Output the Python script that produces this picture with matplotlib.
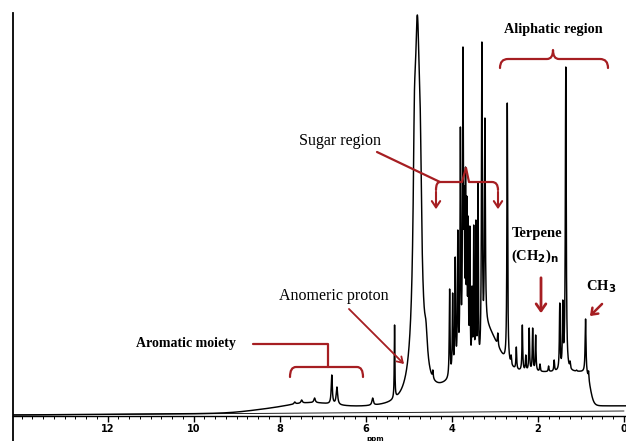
import numpy as np
import matplotlib
matplotlib.use("Agg")
import matplotlib.pyplot as plt
from matplotlib.path import Path
from matplotlib.patches import PathPatch

# ---------------- data ----------------
# chemical shift (ppm), observed peak-top intensity (a.u.), half width (ppm)
peak_ppm = [4.80, 4.87, 4.73, 4.60, 5.33,
            7.65, 7.49, 7.19, 6.79, 6.67, 5.84,
            4.44, 4.05, 3.98, 3.92, 3.86, 3.80, 3.74, 3.71, 3.68, 3.65, 3.62, 3.58,
            3.53, 3.49, 3.44, 3.39, 3.30, 3.23, 3.03, 2.93,
            2.71, 2.62, 2.50, 2.36, 2.28, 2.20, 2.12, 2.05, 1.95, 1.75, 1.62,
            1.49, 1.42, 1.35, 1.25, 1.10, 0.89, 0.82]
peak_top = [401, 320, 300, 95, 91,
            14, 16, 18, 41, 29, 18,
            46, 127, 123, 159, 186, 289, 369, 230, 249, 220, 200, 190,
            130, 191, 196, 233, 374, 298, 55, 83,
            313, 61, 69, 91, 61, 88, 88, 81, 52, 50, 56,
            113, 116, 349, 55, 46, 97, 45]
peak_hwhm = [0.08, 0.03, 0.03, 0.04, 0.008,
             0.02, 0.02, 0.02, 0.015, 0.02, 0.02,
             0.01, 0.01, 0.01, 0.01, 0.01, 0.01, 0.012, 0.008, 0.008, 0.008, 0.008, 0.008,
             0.008, 0.008, 0.008, 0.008, 0.012, 0.012, 0.01, 0.01,
             0.01, 0.01, 0.01, 0.01, 0.01, 0.01, 0.01, 0.01, 0.01, 0.01, 0.01,
             0.01, 0.01, 0.012, 0.01, 0.01, 0.012, 0.01]

# broad underlying components
baseline_ppm = [14.2, 0.0]
baseline_int = [1.0, 5.0]
offset_height = 5.0
offset_edge = 8.7
aliph_height = 34.0
aliph_edges = [0.78, 4.2]
sugar_env = [3.25, 45.0, 0.30]      # centre, height, width (left side)
arom_hump = [7.3, 5.0, 0.5]         # centre, height, width

xtick_values = [12, 10, 8, 6, 4, 2, 0]
xtick_labels = ["12", "10", "8", "6", "4", "2", "0"]

RED = "#a61e22"

# ---------------- build the trace ----------------
ppm = np.linspace(14.3, -0.1, 40000)


def sig(z):
    return 1.0 / (1.0 + np.exp(-z))


def background(x):
    x = np.asarray(x, dtype=float)
    b = np.interp(x, baseline_ppm[::-1], baseline_int[::-1])
    b = b + offset_height * sig(-(x - offset_edge) / 0.3)
    b = b + aliph_height * sig((x - aliph_edges[0]) / 0.04) * sig(-(x - aliph_edges[1]) / 0.25)
    c, h, w = sugar_env
    b = b + h * np.exp(-0.5 * ((x - c) / w) ** 2) * sig(-(x - c) / 0.02)
    c, h, w = arom_hump
    b = b + h * np.exp(-0.5 * ((x - c) / w) ** 2)
    return b


def lor(x, x0, w):
    return w * w / ((x - x0) ** 2 + w * w)


p0 = np.array(peak_ppm)
tops = np.array(peak_top, dtype=float)
ws = np.array(peak_hwhm)
M = lor(p0[:, None], p0[None, :], ws[None, :])
target = tops - background(p0)
amp = np.clip(target, 0, None)
for _ in range(300):
    for i in range(len(amp)):
        other = M[i] @ amp - M[i, i] * amp[i]
        amp[i] = max(0.0, target[i] - other)

spec = background(ppm) + (amp[None, :] * lor(ppm[:, None], p0[None, :], ws[None, :])).sum(axis=1)

# ---------------- figure ----------------
W, H = 626, 441
fig = plt.figure(figsize=(W / 100, H / 100), dpi=100)
fig.patch.set_facecolor("white")
ax = fig.add_axes([13 / W, 25 / H, 613 / W, 403 / H])
ax.plot(baseline_ppm, baseline_int, color="black", lw=0.6)
ax.plot(ppm, spec, color="black", lw=1.05)
ax.set_xlim(14.2, -0.05)
ax.set_ylim(0, 403)
for s in ["top", "right", "left"]:
    ax.spines[s].set_visible(False)
ax.spines["bottom"].set_linewidth(1.0)
ax.set_yticks([])
ax.set_xticks(xtick_values)
ax.set_xticklabels(xtick_labels, fontsize=7, fontweight="bold", family="DejaVu Sans")
ax.set_xticks(np.arange(0, 14.01, 0.25), minor=True)
ax.tick_params(axis="x", which="major", direction="out", length=4, width=1.0, pad=2)
ax.tick_params(axis="x", which="minor", direction="out", length=2, width=0.7)
ax.text(5.78, -23.5, "ppm", fontsize=5, ha="center", va="center", fontweight="bold")

# overlay in image pixel coordinates for the annotations
ov = fig.add_axes([0, 0, 1, 1])
ov.set_xlim(0, W)
ov.set_ylim(H, 0)
ov.axis("off")
ov.patch.set_alpha(0)
ov.plot([13, 13], [13, 441], color="black", lw=1.3)

serif = "Liberation Serif"


def path(verts, codes, lw=1.6):
    ov.add_patch(PathPatch(Path(verts, codes), fill=False, edgecolor=RED, lw=lw,
                           capstyle="round", joinstyle="round"))


M_, L_, Q_ = Path.MOVETO, Path.LINETO, Path.CURVE3

# Aliphatic region bracket
path([(500, 68), (500, 59), (508, 59), (547, 59), (553, 59), (553, 50),
      (553, 59), (559, 59), (600, 59), (608, 59), (608, 68)],
     [M_, Q_, Q_, L_, Q_, Q_, Q_, Q_, L_, Q_, Q_])
ov.text(553, 30, "Aliphatic region", family=serif, fontweight="bold", fontsize=10.3,
        ha="center", va="center")

# Sugar region
ov.text(340, 141, "Sugar region", family=serif, fontsize=11.5, ha="center", va="center")
path([(377, 152), (440, 182), (462, 182), (466, 168), (469, 182), (492, 182),
      (498, 182), (498, 190)],
     [M_, L_, L_, L_, L_, L_, Q_, Q_])
path([(440, 182), (436, 182), (436, 190)], [M_, Q_, Q_])
for xa in (436, 498):
    ov.annotate("", xy=(xa, 212), xytext=(xa, 189),
                arrowprops=dict(arrowstyle="->,head_length=0.45,head_width=0.3",
                                color=RED, lw=1.5))

# Terpene
ov.text(537, 234, "Terpene", family=serif, fontweight="bold", fontsize=10.5,
        ha="center", va="center")
ov.text(535, 256, r"(CH$_\mathbf{2}$)$_\mathbf{n}$", family=serif, fontweight="bold",
        fontsize=10.5, ha="center", va="center")
ov.annotate("", xy=(541, 316), xytext=(541, 275),
            arrowprops=dict(arrowstyle="->,head_length=0.5,head_width=0.35",
                            color=RED, lw=2.0))

# CH3
ov.text(601, 287, r"CH$_\mathbf{3}$", family=serif, fontweight="bold", fontsize=10.5,
        ha="center", va="center")
ov.annotate("", xy=(588, 318), xytext=(604, 302),
            arrowprops=dict(arrowstyle="->,head_length=0.4,head_width=0.3",
                            color=RED, lw=1.8))

# Anomeric proton
ov.text(334, 296, "Anomeric proton", family=serif, fontsize=11.5, ha="center", va="center")
ov.annotate("", xy=(406, 366), xytext=(347, 307),
            arrowprops=dict(arrowstyle="->,head_length=0.4,head_width=0.25",
                            color=RED, lw=1.3))

# Aromatic moiety
ov.text(186, 343, "Aromatic moiety", family=serif, fontweight="bold", fontsize=10,
        ha="center", va="center")
path([(253, 344), (328, 344), (328, 367)], [M_, L_, L_])
path([(290, 377), (290, 367), (296, 367), (357, 367), (363, 367), (363, 377)],
     [M_, Q_, Q_, L_, Q_, Q_])

fig.savefig("out.png", dpi=100, facecolor="white")
